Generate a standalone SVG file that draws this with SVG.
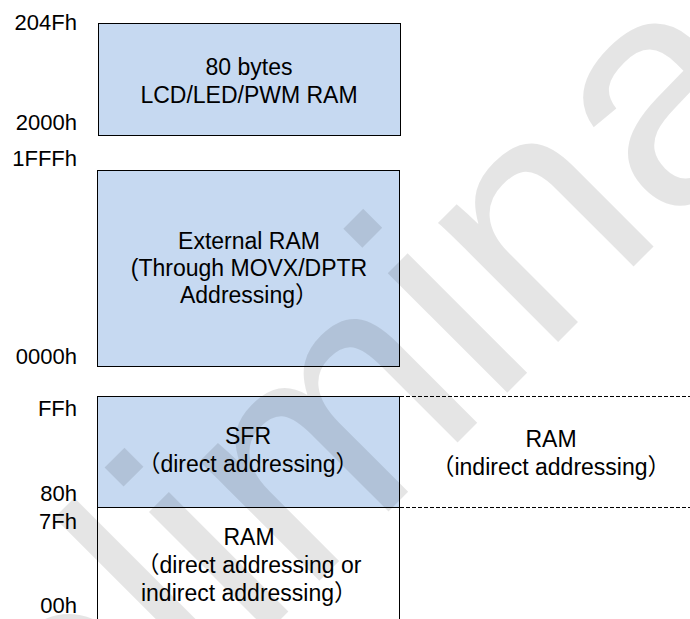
<svg xmlns="http://www.w3.org/2000/svg" width="690" height="619" viewBox="0 0 690 619">
<style>
text{font-family:"Liberation Sans","Noto Sans CJK SC",Arial,sans-serif;font-size:23px;fill:#000}
.lbl{text-anchor:end;font-size:22px}
.c{text-anchor:middle}
.box{fill:#C6D9F1;stroke:#000;stroke-width:1}
.ln{stroke:#000;stroke-width:1;fill:none}
.dash{stroke:#000;stroke-width:1;stroke-dasharray:4 2;fill:none}
.wm{font-size:320px;fill:#000;fill-opacity:0.1}
</style>
<rect width="690" height="619" fill="#fff"/>
<g id="labels">
<text class="lbl" x="77" y="30">204Fh</text>
<text class="lbl" x="77" y="130">2000h</text>
<text class="lbl" x="77" y="166">1FFFh</text>
<text class="lbl" x="77" y="364">0000h</text>
<text class="lbl" x="77" y="416">FFh</text>
<text class="lbl" x="77" y="501">80h</text>
<text class="lbl" x="77" y="529">7Fh</text>
<text class="lbl" x="77" y="613">00h</text>
</g>
<g id="lcd-ram">
<rect class="box" x="98.5" y="23.5" width="302" height="112"/>
<text class="c" x="249" y="75">80 bytes</text>
<text class="c" x="249" y="103">LCD/LED/PWM RAM</text>
</g>
<g id="external-ram">
<rect class="box" x="97.5" y="170.5" width="302" height="196"/>
<text class="c" x="249" y="249">External RAM</text>
<text class="c" x="249" y="276">(Through MOVX/DPTR</text>
<text class="c" x="249" y="303">Addressing）</text>
</g>
<g id="sfr">
<rect x="97.5" y="396.5" width="302" height="111" fill="#C6D9F1"/>
<text class="c" x="248" y="444">SFR</text>
<text class="c" x="248" y="472">（direct addressing）</text>
</g>
<g id="ram-upper">
<text class="c" x="551" y="447">RAM</text>
<text class="c" x="551" y="475">（indirect addressing）</text>
</g>
<g id="ram-lower">
<text class="c" x="249" y="545">RAM</text>
<text class="c" x="249" y="573">（direct addressing or</text>
<text class="c" x="249" y="601">indirect addressing）</text>
</g>
<g id="connectors">
<line class="ln" x1="97.5" y1="396.5" x2="400.5" y2="396.5"/>
<line class="ln" x1="97.5" y1="507.5" x2="400.5" y2="507.5"/>
<line class="ln" x1="97.5" y1="396" x2="97.5" y2="619"/>
<line class="ln" x1="399.5" y1="396" x2="399.5" y2="619"/>
<line class="dash" x1="400" y1="396.5" x2="690" y2="396.5"/>
<line class="dash" x1="400" y1="507.5" x2="690" y2="507.5"/>
</g>
<g id="watermark">
<text class="wm" x="-149" y="1049" transform="rotate(-45 -149 1049)">Preliminary</text>
</g>
</svg>
